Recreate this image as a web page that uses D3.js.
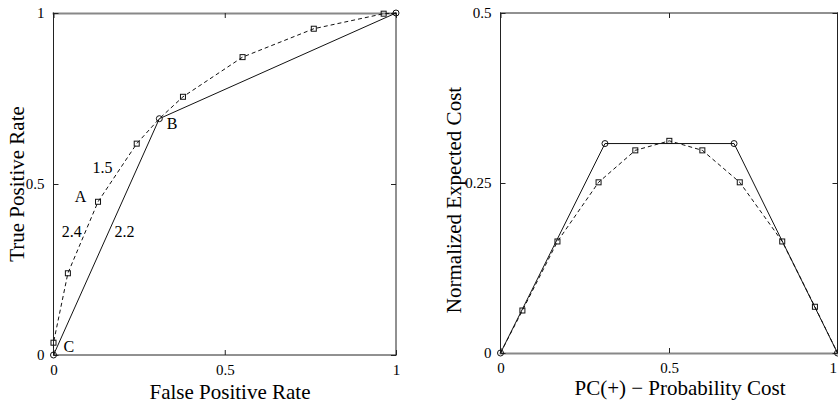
<!DOCTYPE html>
<html>
<head>
<meta charset="utf-8">
<script src="https://cdn.jsdelivr.net/npm/d3@7"></script>
<style>
  body { margin: 0; background: #fff; }
  svg text { font-family: "Liberation Serif", "Times New Roman", serif; fill: #000; }
</style>
</head>
<body>
<svg id="chart" width="838" height="406"></svg>
<script>
// ROC space: convex hull (solid) and ROC curve (dashed)
const hullFpr = [0, 0.309, 1];
const hullTpr = [0, 0.691, 1];
const rocFpr = [0, 0, 0.042, 0.13, 0.243, 0.309, 0.378, 0.552, 0.76, 0.964, 1];
const rocTpr = [0, 0.036, 0.239, 0.448, 0.618, 0.691, 0.755, 0.871, 0.954, 0.998, 1];
// which ROC points are drawn with a square marker
const rocSquare = [false, true, true, true, true, false, true, true, true, true, false];

// cost space: lower envelope (solid) and cost curve (dashed)
const envPc = [0, 0.31, 0.693, 1];
const envCost = [0, 0.308, 0.308, 0];
const costPc = [0, 0.065, 0.169, 0.291, 0.40, 0.501, 0.599, 0.71, 0.836, 0.933, 1];
const costVal = [0, 0.0625, 0.164, 0.251, 0.298, 0.312, 0.298, 0.251, 0.164, 0.068, 0];

// annotations in ROC space
const noteText = ["1.5", "A", "2.4", "2.2", "B", "C"];
const noteFpr = [0.143, 0.079, 0.053, 0.207, 0.346, 0.045];
const noteTpr = [0.533, 0.446, 0.346, 0.346, 0.661, 0.01];

const rocTicks = [0, 0.5, 1];
const costXTicks = [0, 0.5, 1];
const costYTicks = [0, 0.25, 0.5];
const fmt = d => String(d);

const svg = d3.select("#chart");

/******** panel helper ********/
// grayEdge: which side of the box is drawn softer (as in the scanned original)
function panel({left, right, top, bottom, xDomain, yDomain, xTicks, yTicks, xTitle, yTitle, xTitlePos, yTitlePos, grayEdge}) {
  const x = d3.scaleLinear().domain(xDomain).range([left, right]);
  const y = d3.scaleLinear().domain(yDomain).range([bottom, top]);
  const g = svg.append("g");

  // box
  const edges = [
    {k: "top", x1: left, y1: top, x2: right, y2: top},
    {k: "bottom", x1: left, y1: bottom, x2: right, y2: bottom},
    {k: "left", x1: left, y1: top, x2: left, y2: bottom},
    {k: "right", x1: right, y1: top, x2: right, y2: bottom}
  ];
  g.selectAll(null).data(edges).join("line")
    .attr("x1", d => d.x1).attr("y1", d => d.y1 + (d.k === grayEdge ? 0.5 : 0))
    .attr("x2", d => d.x2).attr("y2", d => d.y2 + (d.k === grayEdge ? 0.5 : 0))
    .attr("stroke", d => d.k === grayEdge ? "#888" : "#222")
    .attr("stroke-width", d => d.k === grayEdge ? 2 : 1)
    .attr("stroke-linecap", "square");

  // ticks inside, on all four sides (matlab style)
  const tl = 5;
  g.append("g").call(d3.axisBottom(x).tickValues(xTicks).tickSize(-tl).tickFormat(fmt).tickPadding(9))
    .attr("class", "xaxis")
    .attr("transform", `translate(0,${bottom})`);
  g.append("g").call(d3.axisTop(x).tickValues(xTicks).tickSize(-tl).tickFormat(""))
    .attr("transform", `translate(0,${top})`);
  g.append("g").call(d3.axisLeft(y).tickValues(yTicks).tickSize(-tl).tickFormat(fmt).tickPadding(9))
    .attr("transform", `translate(${left},0)`);
  g.append("g").call(d3.axisRight(y).tickValues(yTicks).tickSize(-tl).tickFormat(""))
    .attr("transform", `translate(${right},0)`);
  g.selectAll(".domain").remove();
  g.selectAll("g").attr("font-family", null);
  g.selectAll(".tick line").attr("stroke", "#222");
  g.selectAll(".tick text").attr("font-size", 15);

  g.append("text")
    .attr("x", xTitlePos[0]).attr("y", xTitlePos[1])
    .attr("text-anchor", "middle").attr("font-size", 21)
    .text(xTitle);
  g.append("text")
    .attr("transform", `translate(${yTitlePos[0]},${yTitlePos[1]}) rotate(-90)`)
    .attr("text-anchor", "middle").attr("font-size", 21)
    .text(yTitle);

  return {x, y, g};
}

function drawLine(p, xs, ys, dashed) {
  const line = d3.line().x(i => p.x(xs[i])).y(i => p.y(ys[i]));
  p.g.append("path")
    .attr("d", line(d3.range(xs.length)))
    .attr("fill", "none")
    .attr("stroke", "#111")
    .attr("stroke-width", 1)
    .attr("stroke-dasharray", dashed ? "4,3" : null);
}

function circles(p, xs, ys) {
  p.g.selectAll(null).data(d3.range(xs.length)).join("circle")
    .attr("cx", i => p.x(xs[i])).attr("cy", i => p.y(ys[i])).attr("r", 3)
    .attr("fill", "none").attr("stroke", "#111").attr("stroke-width", 1);
}

function squares(p, xs, ys, keep) {
  p.g.selectAll(null).data(d3.range(xs.length).filter(i => keep ? keep[i] : true)).join("rect")
    .attr("x", i => p.x(xs[i]) - 2.5).attr("y", i => p.y(ys[i]) - 2.5)
    .attr("width", 5).attr("height", 5)
    .attr("fill", "none").attr("stroke", "#111").attr("stroke-width", 1);
}

/******** left: ROC ********/
const roc = panel({
  left: 53.5, right: 396, top: 13, bottom: 355,
  xDomain: [0, 1], yDomain: [0, 1],
  xTicks: rocTicks, yTicks: rocTicks,
  xTitle: "False Positive Rate", yTitle: "True Positive Rate",
  xTitlePos: [230, 399], yTitlePos: [24, 184],
  grayEdge: "top"
});
drawLine(roc, rocFpr, rocTpr, true);
drawLine(roc, hullFpr, hullTpr, false);
squares(roc, rocFpr, rocTpr, rocSquare);
circles(roc, hullFpr, hullTpr);

roc.g.selectAll(null).data(d3.range(noteText.length)).join("text")
  .attr("x", i => roc.x(noteFpr[i]))
  .attr("y", i => roc.y(noteTpr[i]))
  .attr("font-size", 16)
  .attr("text-anchor", "middle")
  .text(i => noteText[i]);

/******** right: cost curve ********/
const cost = panel({
  left: 500.5, right: 837.5, top: 13, bottom: 353,
  xDomain: [0, 1], yDomain: [0, 0.5],
  xTicks: costXTicks, yTicks: costYTicks,
  xTitle: "PC(+) \u2212 Probability Cost", yTitle: "Normalized Expected Cost",
  xTitlePos: [680, 395], yTitlePos: [461, 200],
  grayEdge: "bottom"
});
drawLine(cost, costPc, costVal, true);
drawLine(cost, envPc, envCost, false);
squares(cost, costPc.slice(1, -1), costVal.slice(1, -1));
circles(cost, envPc, envCost);
// last x tick label sits on the page edge: keep it whole
cost.g.select(".xaxis").selectAll(".tick text").filter(d => d === 1)
  .attr("text-anchor", "end").attr("dx", -1);
</script>
</body>
</html>
